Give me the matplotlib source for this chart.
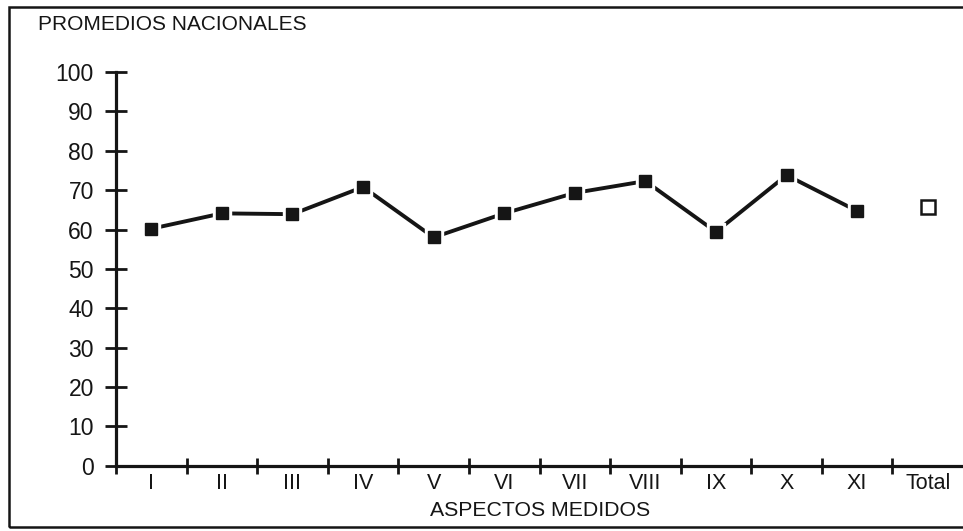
import matplotlib.pyplot as plt
from matplotlib.patches import Rectangle

plt.rcParams['font.family'] = ['Liberation Sans', 'DejaVu Sans']

# datos
aspectos = ['I', 'II', 'III', 'IV', 'V', 'VI', 'VII', 'VIII', 'IX', 'X', 'XI']
promedios = [60.2, 64.1, 63.9, 70.8, 58.0, 64.1, 69.3, 72.3, 59.4, 73.8, 64.7]
promedio_total = 65.6
etiquetas = aspectos + ['Total']
y_ticks = list(range(0, 101, 10))

ink = '#151515'

fig = plt.figure(figsize=(9.63, 5.31), dpi=100)
ax = fig.add_axes([116 / 963, 1 - 465.8 / 531, 1 - 116 / 963, (465.8 - 72) / 531])
ax.patch.set_alpha(0)

# posiciones de las categorias (centro entre marcas)
x = [i + 0.5 for i in range(len(aspectos))]
x_total = len(aspectos) + 0.5

ax.plot(x, promedios, color=ink, lw=2.8, solid_capstyle='butt', zorder=2)
ax.plot(x, promedios, ls='none', marker='s', ms=13, color='white', zorder=3)
ax.plot(x, promedios, ls='none', marker='s', ms=8.3, color=ink, zorder=4)
ax.plot([x_total], [promedio_total], ls='none', marker='s', ms=10,
        mfc='white', mec=ink, mew=1.8, zorder=4)

ax.set_xlim(0, 12)
ax.set_ylim(0, 100)
for s in ['top', 'right']:
    ax.spines[s].set_visible(False)
for s in ['left', 'bottom']:
    ax.spines[s].set_linewidth(2.3)
    ax.spines[s].set_color(ink)

ax.set_yticks(y_ticks)
ax.tick_params(axis='y', direction='inout', length=16, width=2, pad=8,
               labelsize=16.5, colors=ink)

ax.set_xticks(range(len(aspectos) + 1))
ax.set_xticks(x + [x_total], minor=True)
ax.set_xticklabels(etiquetas, minor=True)
ax.tick_params(axis='x', which='major', direction='inout', length=12, width=2,
               labelbottom=False, colors=ink)
ax.tick_params(axis='x', which='minor', length=0, pad=5, labelsize=15.5,
               colors=ink)

fig.text(38 / 963, 1 - 25 / 531, 'PROMEDIOS NACIONALES', ha='left', va='center',
         fontsize=15, color=ink)
fig.text(540 / 963, 1 - 510 / 531, 'ASPECTOS MEDIDOS', ha='center', va='center',
         fontsize=15.3, color=ink)

# marco exterior
fig.add_artist(Rectangle((9 / 963, 1 - 527 / 531), 1.0, (527 - 7) / 531,
                         transform=fig.transFigure, fill=False, lw=1.8, ec=ink))

fig.savefig('out.png', dpi=100)
